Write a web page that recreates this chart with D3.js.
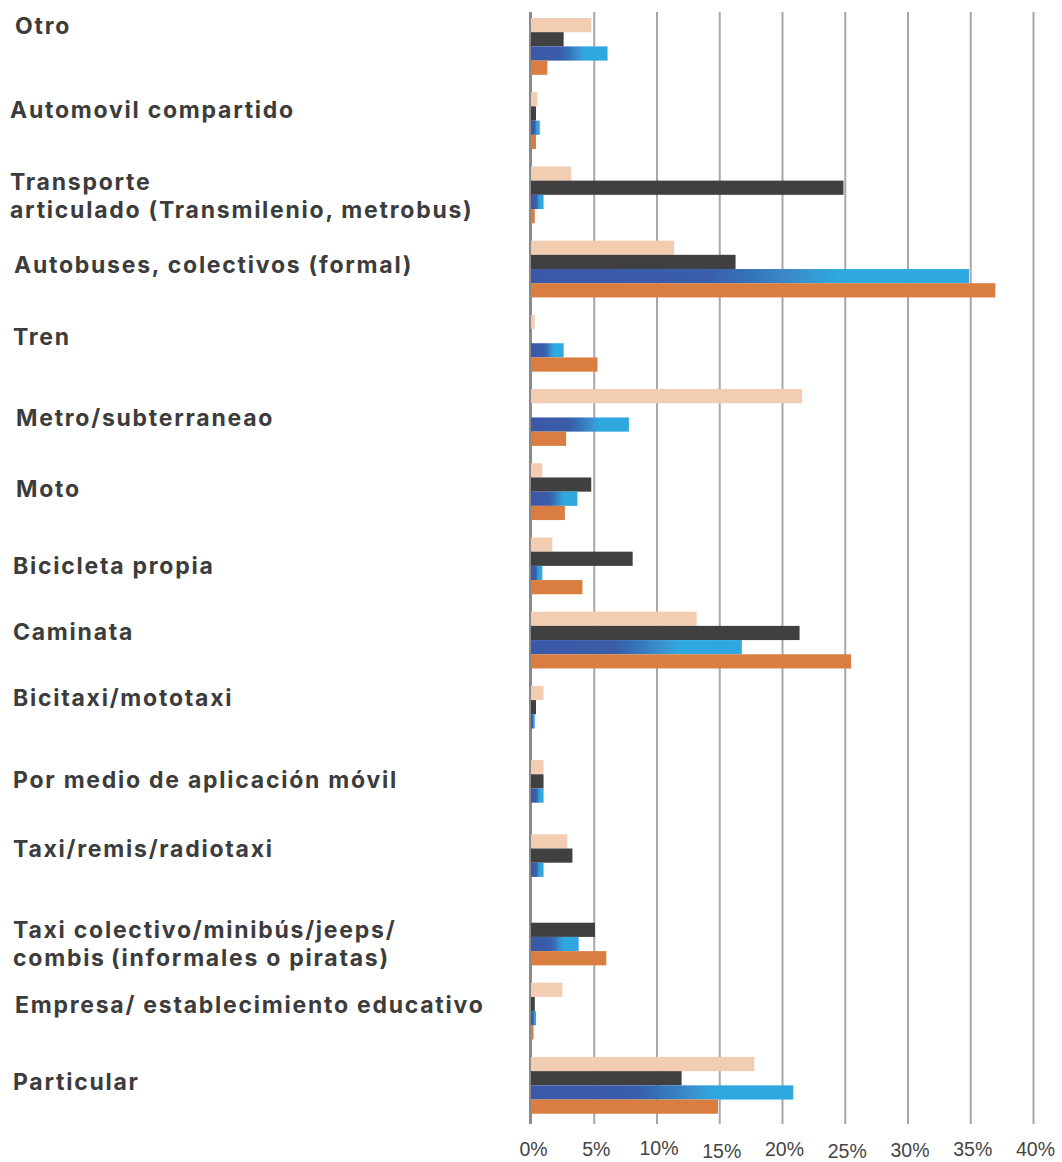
<!DOCTYPE html>
<html>
<head>
<meta charset="utf-8">
<script src="https://cdn.jsdelivr.net/npm/d3@7"></script>
<style>
  html, body { margin: 0; padding: 0; background: #ffffff; }
  svg { display: block; }
</style>
</head>
<body>
<svg id="chart" width="1062" height="1162"></svg>
<script>
// Modos de transporte (orden de arriba hacia abajo); "\n" separa renglones
const categories = [
  "Otro",
  "Automovil compartido",
  "Transporte\narticulado (Transmilenio, metrobus)",
  "Autobuses, colectivos (formal)",
  "Tren",
  "Metro/subterraneao",
  "Moto",
  "Bicicleta propia",
  "Caminata",
  "Bicitaxi/mototaxi",
  "Por medio de aplicación móvil",
  "Taxi/remis/radiotaxi",
  "Taxi colectivo/minibús/jeeps/\ncombis\u2009(informales o piratas)",
  "Empresa/ establecimiento educativo",
  "Particular"
];

// Porcentaje por serie (0 = sin barra)
const serieA = [4.8, 0.5, 3.2, 11.4, 0.3, 21.6, 0.9, 1.7, 13.2, 1.0, 1.0, 2.9, 0, 2.5, 17.8];
const serieB = [2.6, 0.4, 24.9, 16.3, 0, 0, 4.8, 8.1, 21.4, 0.4, 1.0, 3.3, 5.1, 0.3, 12.0];
const serieC = [6.1, 0.7, 1.0, 34.9, 2.6, 7.8, 3.7, 0.9, 16.8, 0.3, 1.0, 1.0, 3.8, 0.4, 20.9];
const serieD = [1.3, 0.4, 0.3, 37.0, 5.3, 2.8, 2.7, 4.1, 25.5, 0, 0, 0, 6.0, 0.2, 14.9];

const seriesNames = ["serieA", "serieB", "serieC", "serieD"];
const seriesValues = [serieA, serieB, serieC, serieD];

// Marcas del eje X (porcentaje)
const tickValues = [0, 5, 10, 15, 20, 25, 30, 35, 40];

// ---- Layout ----
const svg = d3.select("#chart");
const xLeft = 531, xRight = 1033;
const gridTop = 12, gridBottom = 1124;
const bandTop = 18, bandStep = 74.21, groupHeight = 56.8;

// small vertical shifts of each category label relative to its group centre
const labelShift = [-21, -10.5, 1, -4, -7, 0.5, -2.5, 0, -8, -17, -8.5, -14, 7, -6, -3.5];
const labelLeft  = [15, 10, 10, 14, 13, 16, 16, 13, 13, 13, 13, 13, 13, 15, 13];
// small vertical shifts of the tick labels
const tickShift = [0, 0, -1, 2, 0.5, 2.5, 1, 0.5, 0.5];

const colors = ["#f2cdb2", "#404040", "url(#blueGrad)", "#d97e40"];

const x = d3.scaleLinear().domain([0, 40]).range([xLeft, xRight]);

const paddingInner = 1 - groupHeight / bandStep;
const y = d3.scaleBand()
  .domain(categories)
  .range([bandTop, bandTop + (categories.length - 1) * bandStep + groupHeight])
  .paddingInner(paddingInner)
  .paddingOuter(0);

const ySub = d3.scaleBand()
  .domain(seriesNames)
  .range([0, y.bandwidth()])
  .padding(0);

// Blue gradient used by the third series
const defs = svg.append("defs");
const grad = defs.append("linearGradient")
  .attr("id", "blueGrad")
  .attr("x1", "0%").attr("x2", "100%")
  .attr("y1", "0%").attr("y2", "0%");
[
  [0, "#3a58a8"], [0.40, "#3a5ea9"], [0.50, "#3374b9"],
  [0.60, "#3b8dcc"], [0.70, "#2ea8de"], [1, "#2ea8de"]
].forEach(([o, c]) => grad.append("stop").attr("offset", o).attr("stop-color", c));

// Gridlines + tick labels via a bottom axis
const axis = d3.axisBottom(x)
  .tickValues(tickValues)
  .tickSize(-(gridBottom - gridTop))
  .tickPadding(0)
  .tickFormat(d => d + "%");

const gAxis = svg.append("g")
  .attr("transform", `translate(0,${gridBottom})`)
  .call(axis);

gAxis.select(".domain").remove();
gAxis.selectAll(".tick line")
  .attr("stroke", d => d === 0 ? "#8a8a8a" : "#a8a8a8")
  .attr("stroke-width", d => d === 0 ? 3 : 2)
  .attr("transform", d => d === 0 ? "translate(-1,0)" : null);
gAxis.selectAll(".tick text")
  .attr("fill", "#444444")
  .attr("font-family", "'Liberation Sans', Arial, Helvetica, sans-serif")
  .attr("font-size", 19.5)
  .attr("text-anchor", "middle")
  .attr("dy", null)
  .attr("x", 2)
  .attr("y", (d, i) => 31.5 + tickShift[i]);

// Bars
const groups = svg.append("g")
  .selectAll("g")
  .data(categories)
  .join("g")
  .attr("transform", d => `translate(0,${y(d)})`);

groups.selectAll("rect")
  .data((d, i) => seriesNames.map((s, k) => ({ s, k, v: seriesValues[k][i] })))
  .join("rect")
  .filter(d => d.v > 0)
  .attr("x", x(0))
  .attr("y", d => ySub(d.s))
  .attr("width", d => x(d.v) - x(0))
  .attr("height", ySub.bandwidth())
  .attr("fill", d => colors[d.k]);

// Category labels
const fontSize = 23, lineGap = 28.4;
svg.append("g")
  .attr("font-family", "Inter, 'Liberation Sans', Arial, sans-serif")
  .attr("font-weight", 700)
  .attr("font-size", fontSize)
  .attr("letter-spacing", "1.75px")
  .attr("fill", "#3c3c3c")
  .selectAll("text")
  .data(categories)
  .join("text")
  .attr("x", (d, i) => labelLeft[i])
  .each(function (d, i) {
    const lines = d.split("\n");
    const centre = y(d) + y.bandwidth() / 2 + labelShift[i];
    const first = centre - (lines.length - 1) * lineGap / 2 + fontSize * 0.36;
    d3.select(this).selectAll("tspan")
      .data(lines)
      .join("tspan")
      .attr("x", labelLeft[i])
      .attr("y", (l, j) => first + j * lineGap)
      .text(l => l);
  });
</script>
</body>
</html>
